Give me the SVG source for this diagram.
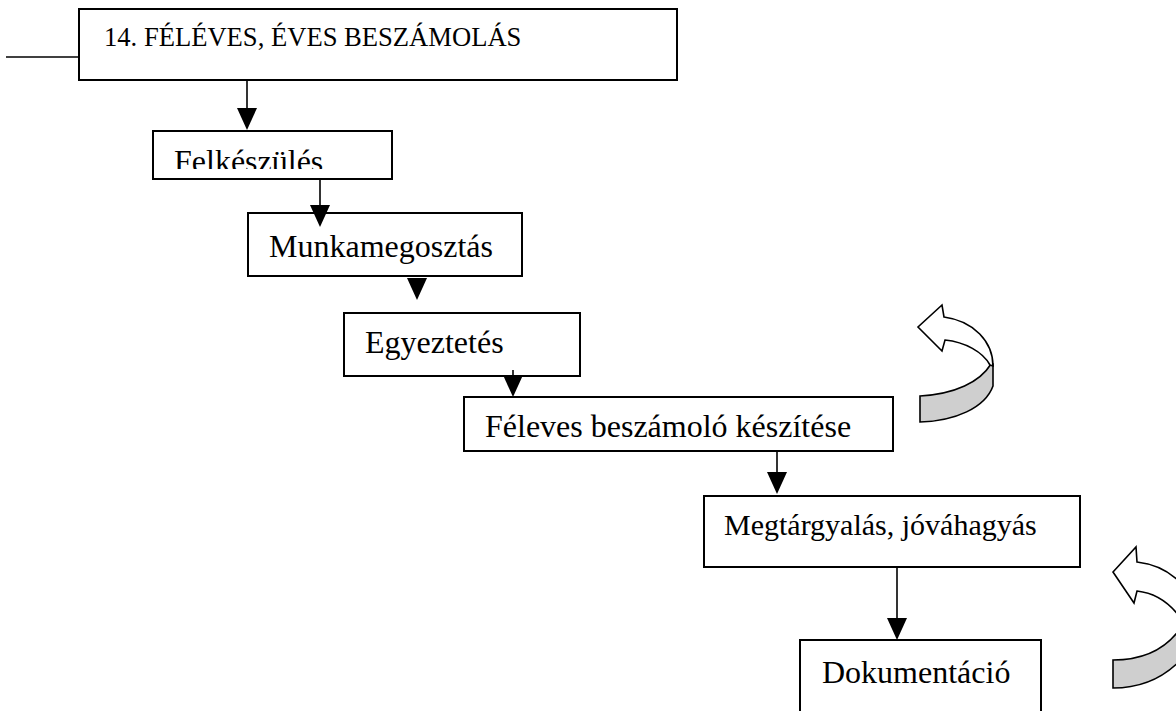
<svg xmlns="http://www.w3.org/2000/svg" width="1176" height="711" viewBox="0 0 1176 711">
<style>
.box{fill:#fff;stroke:#000;stroke-width:2}
.t{font-family:"Liberation Serif","Times New Roman",serif;fill:#000}
.ln{stroke:#000;stroke-width:1.6;fill:none}
.hd{fill:#000}
.cw{fill:#fff;stroke:#000;stroke-width:1.6;stroke-linejoin:miter}
.cg{fill:#cfcfcf;stroke:#000;stroke-width:1.6}
</style>
<defs>
<clipPath id="clipF"><rect x="150" y="120" width="250" height="49"/></clipPath>
</defs>
<rect width="1176" height="711" fill="#fff"/>
<g id="n-title">
<rect class="box" x="79" y="9" width="598" height="71"/>
<text class="t" x="104" y="46" font-size="26.6">14. FÉLÉVES, ÉVES BESZÁMOLÁS</text>
</g>
<g id="n-felk">
<rect class="box" x="153" y="131" width="239" height="48"/>
<text class="t" x="174" y="172" font-size="32" clip-path="url(#clipF)">Felkészülés</text>
</g>
<g id="n-munka">
<rect class="box" x="248" y="213" width="274" height="63"/>
<text class="t" x="269" y="257" font-size="32">Munkamegosztás</text>
</g>
<g id="n-egyez">
<rect class="box" x="344" y="313" width="236" height="63"/>
<text class="t" x="365" y="353" font-size="32">Egyeztetés</text>
</g>
<g id="n-feleves">
<rect class="box" x="464" y="397" width="429" height="54"/>
<text class="t" x="485" y="437" font-size="32">Féleves beszámoló készítése</text>
</g>
<g id="n-megt">
<rect class="box" x="704" y="496" width="376" height="71"/>
<text class="t" x="724" y="535" font-size="30">Megtárgyalás, jóváhagyás</text>
</g>
<g id="n-doku">
<rect class="box" x="800" y="640" width="241" height="80"/>
<text class="t" x="822" y="683" font-size="32">Dokumentáció</text>
</g>
<g id="connectors">
<line class="ln" x1="6" y1="57" x2="79" y2="57"/>
<line class="ln" x1="247" y1="80" x2="247" y2="112"/>
<polygon class="hd" points="237,108 257,108 247,130"/>
<line class="ln" x1="320" y1="179" x2="320" y2="210"/>
<polygon class="hd" points="310,205 330,205 320,227"/>
<polygon class="hd" points="407,278 427,278 417,300"/>
<line class="ln" x1="513" y1="370" x2="513" y2="380"/>
<polygon class="hd" points="503,375 523,375 513,397"/>
<line class="ln" x1="777" y1="451" x2="777" y2="476"/>
<polygon class="hd" points="767,472 787,472 777,494"/>
<line class="ln" x1="897" y1="567" x2="897" y2="622"/>
<polygon class="hd" points="887,618 907,618 897,640"/>
</g>
<g id="curved-1">
<path class="cg" d="M920,396 C955,394 980,382 991,364 L993,364 L993,386 C985,408 955,421 920,422 Z"/>
<path class="cw" d="M944,317 L942,305 L918,327 L942,351 L945,340 C965,342 983,352 990,365 L993,366 C993,342 974,321 944,317 Z"/>
</g>
<g id="curved-2">
<path class="cg" d="M1113,660 C1148,660 1174,645 1188,615 L1202,612 C1200,650 1165,688 1113,688 Z"/>
<path class="cw" d="M1137,562 L1136,547 L1113,572 L1134,603 L1137,591 C1155,593 1172,603 1185,625 L1200,625 C1197,592 1172,566 1137,562 Z"/>
</g>
</svg>
